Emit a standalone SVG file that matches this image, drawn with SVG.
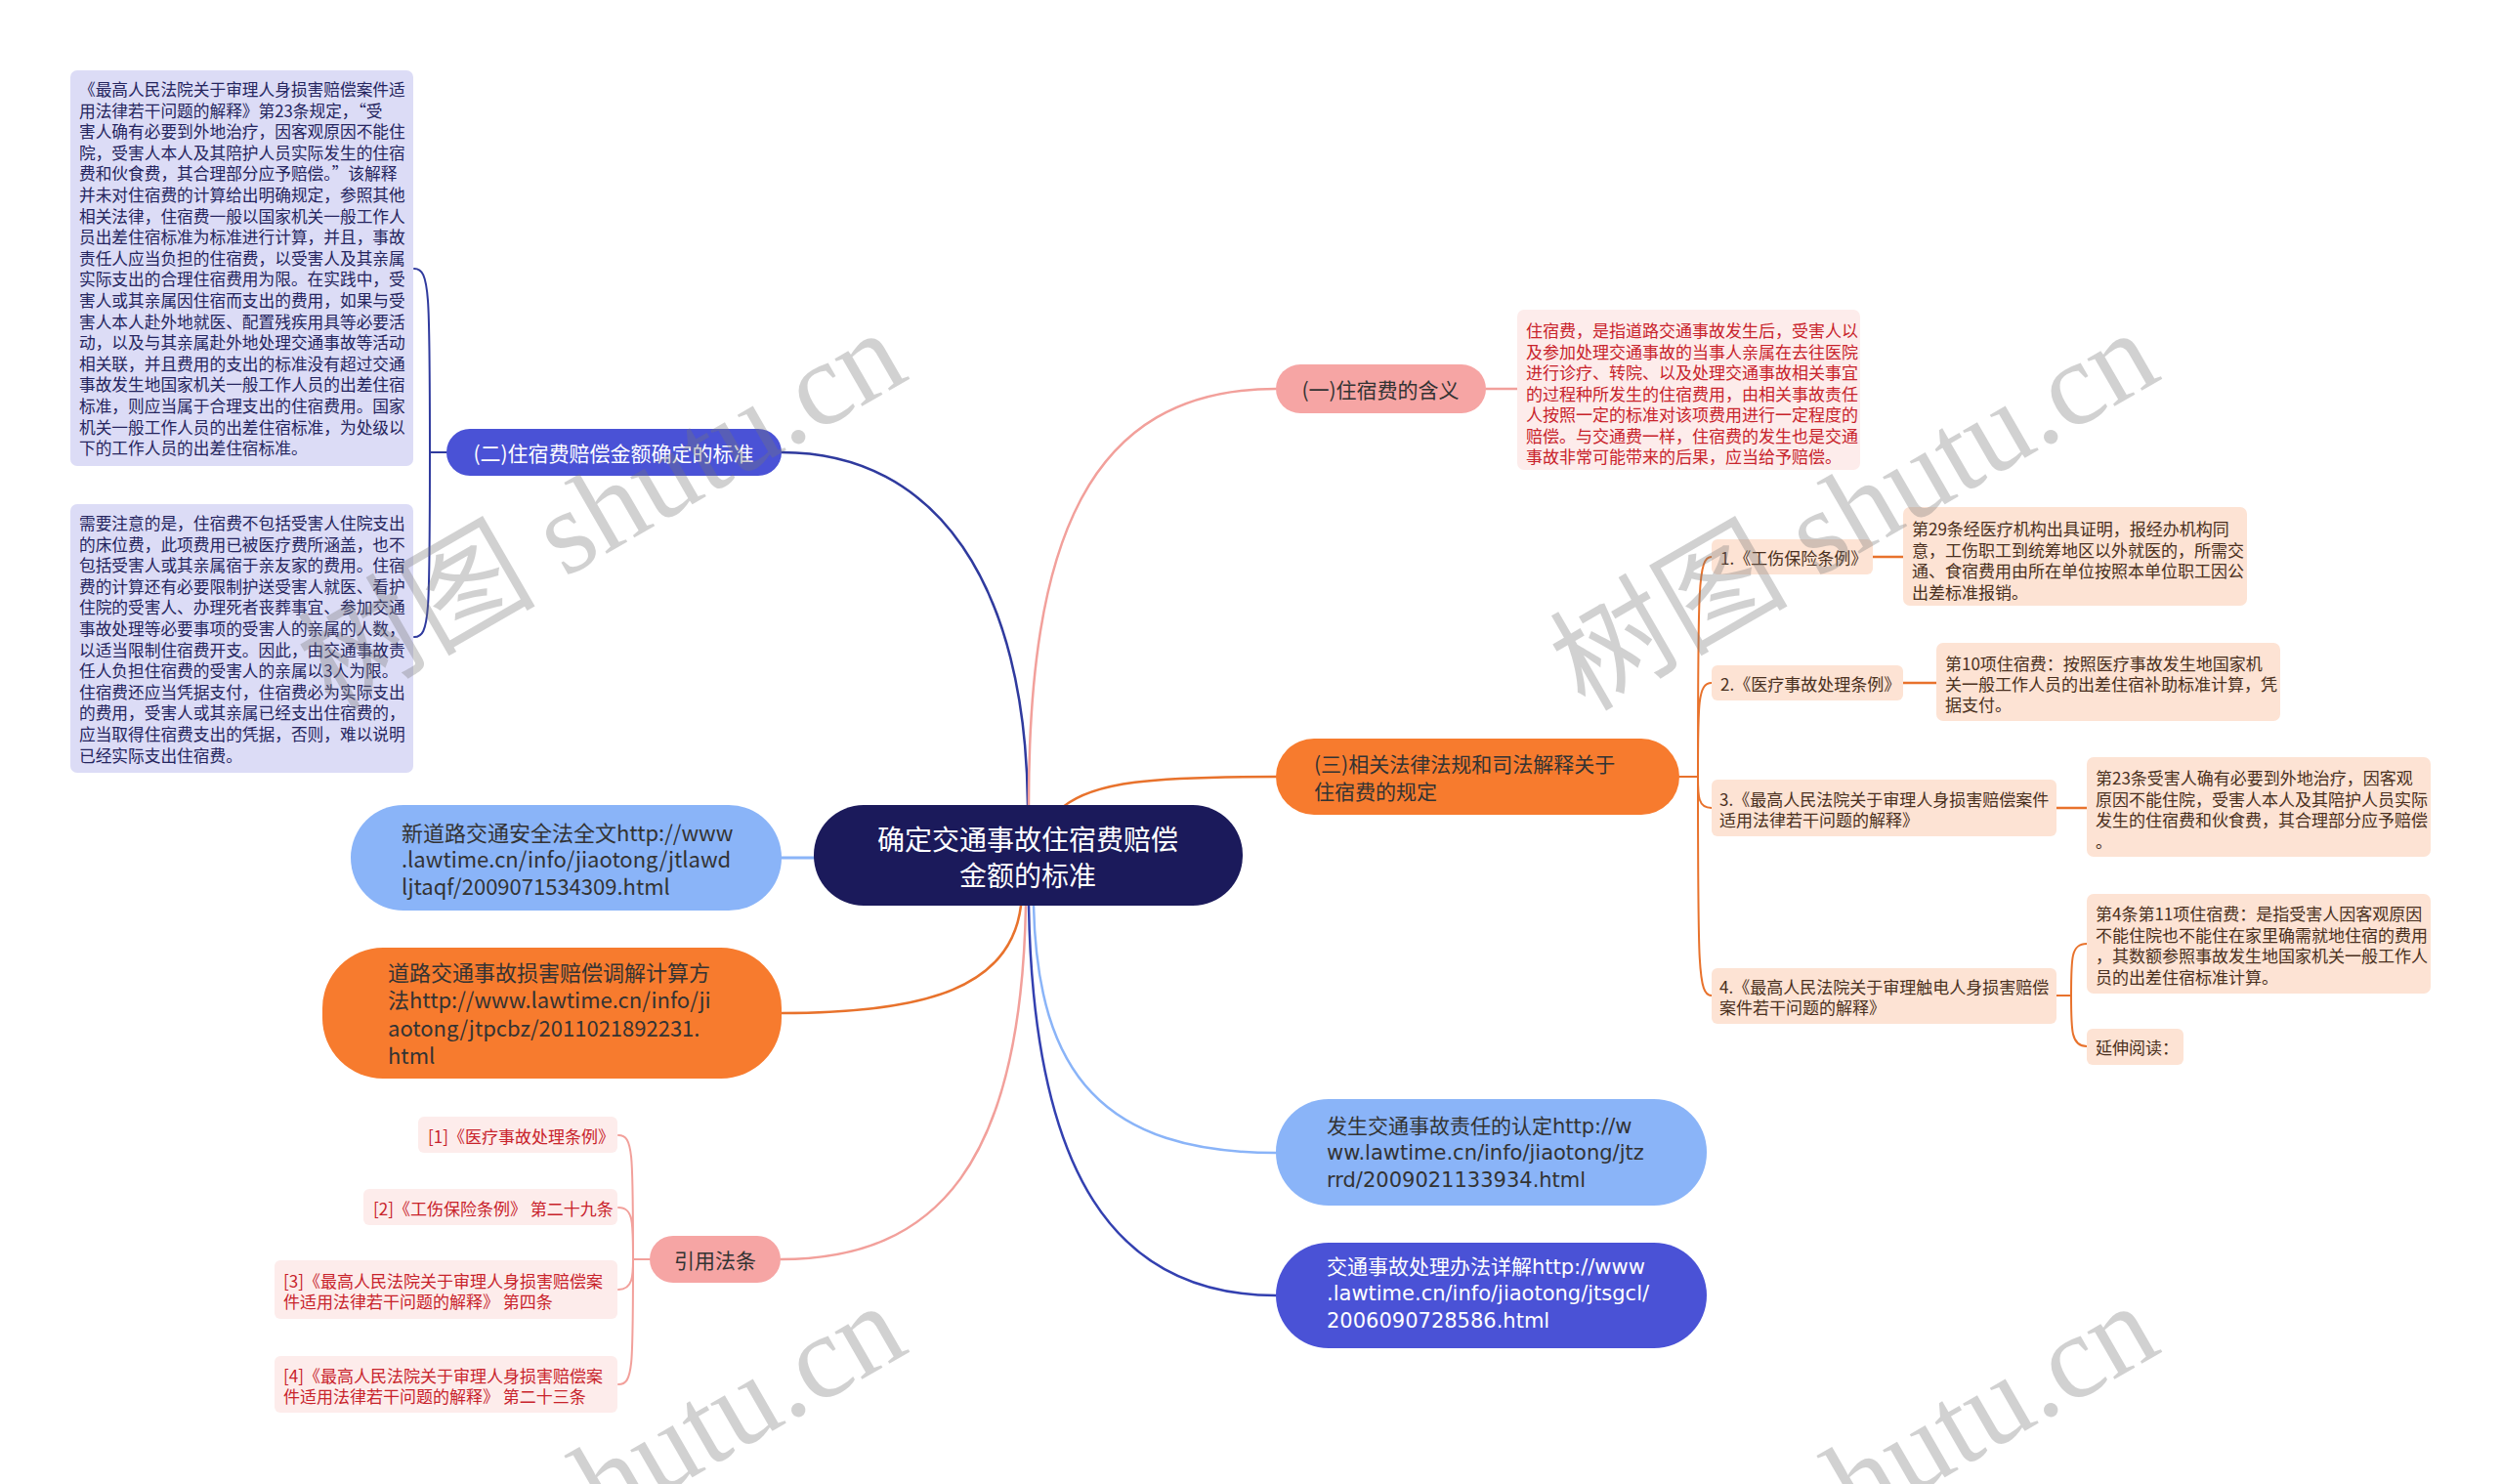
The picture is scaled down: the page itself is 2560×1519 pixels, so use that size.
<svg xmlns="http://www.w3.org/2000/svg" width="2560" height="1519" viewBox="0 0 2560 1519">
<style>
text { font-family: "Noto Sans CJK SC", "Noto Sans", sans-serif; dominant-baseline: central; }
.v { font-family: "DejaVu Sans", "Noto Sans CJK SC", sans-serif; }
.c { fill: none; stroke-linecap: round; }
.lav { fill: #dcdcf6; }
.lavt { fill: #25255e; font-size: 16.7px; }
.pk { fill: #fdeceb; }
.pkt { fill: #c8232b; font-size: 17px; }
.pe { fill: #fde3d4; }
.pet { fill: #4a3020; font-size: 17px; }
.wm { font-family: "Liberation Serif", "Noto Sans CJK SC", serif; font-size: 122px; fill: #777; opacity: 0.33; dominant-baseline: alphabetic; }
</style>
<rect width="2560" height="1519" fill="#fff"/>

<g id="connectors">
  <path class="c" d="M800,463 C960,463 1050,600 1052,824" stroke="#2f3a9e" stroke-width="2.5"/>
  <path class="c" d="M1053,824 C1053,560 1110,398 1306,398" stroke="#f2a09b" stroke-width="2.5"/>
  <path class="c" d="M1088,826 C1120,800 1180,795 1306,795" stroke="#e8722c" stroke-width="2.5"/>
  <path class="c" d="M800,878 H833" stroke="#8ab4f8" stroke-width="3"/>
  <path class="c" d="M1045,927 C1035,1010 950,1037 800,1037" stroke="#e8722c" stroke-width="2.5"/>
  <path class="c" d="M1050,927 C1045,1190 960,1289 799,1289" stroke="#f2a09b" stroke-width="2.5"/>
  <path class="c" d="M1058,927 C1062,1100 1130,1180 1306,1180" stroke="#8ab4f8" stroke-width="2.5"/>
  <path class="c" d="M1053,927 C1058,1200 1140,1326 1306,1326" stroke="#3340b0" stroke-width="2.5"/>
  <path class="c" d="M1521,398 H1553" stroke="#f2a09b" stroke-width="2.5"/>
  <path class="c" d="M457,463 H440 M440,463 C440,300 440,275 424,275 M440,463 C440,630 440,652 424,652" stroke="#2f3a9e" stroke-width="2"/>
  <path class="c" d="M665,1289 H648 M648,1289 C648,1180 648,1162 633,1162 M648,1289 C648,1250 648,1236 633,1236 M648,1289 C648,1305 648,1320 633,1320 M648,1289 C648,1400 648,1417 633,1417" stroke="#f2a09b" stroke-width="2"/>
  <path class="c" d="M1719,795 H1738 M1738,795 C1738,600 1738,570 1752,570 M1738,795 C1738,720 1738,699 1752,699 M1738,795 C1738,815 1738,827 1752,827 M1738,795 C1738,990 1738,1019 1752,1019" stroke="#e8722c" stroke-width="2"/>
  <path class="c" d="M1917,570 H1948 M1948,699 H1982 M2105,827 H2136" stroke="#e8722c" stroke-width="2.5"/>
  <path class="c" d="M2105,1019 H2120 M2120,1019 C2120,980 2120,966 2136,966 M2120,1019 C2120,1055 2120,1071 2136,1071" stroke="#e8722c" stroke-width="2"/>
</g>

<g id="center">
  <rect x="833" y="824" width="439" height="103" rx="51" fill="#1b1a5b"/>
  <text x="1052" y="858" font-size="28" fill="#fff" text-anchor="middle">确定交通事故住宿费赔偿</text>
  <text x="1052" y="895" font-size="28" fill="#fff" text-anchor="middle">金额的标准</text>
</g>

<g id="n1">
  <rect x="1306" y="373" width="215" height="50" rx="25" fill="#f6a5a4"/>
  <text x="1413" y="398" font-size="21" fill="#333" text-anchor="middle">(一)住宿费的含义</text>
</g>
<g id="n1-detail">
  <rect class="pk" x="1553" y="317" width="351" height="164" rx="7"/>
  <text class="pkt">
    <tspan x="1562" y="337">住宿费，是指道路交通事故发生后，受害人以</tspan>
    <tspan x="1562" y="358.5">及参加处理交通事故的当事人亲属在去往医院</tspan>
    <tspan x="1562" y="380">进行诊疗、转院、以及处理交通事故相关事宜</tspan>
    <tspan x="1562" y="401.5">的过程种所发生的住宿费用，由相关事故责任</tspan>
    <tspan x="1562" y="423">人按照一定的标准对该项费用进行一定程度的</tspan>
    <tspan x="1562" y="444.5">赔偿。与交通费一样，住宿费的发生也是交通</tspan>
    <tspan x="1562" y="466">事故非常可能带来的后果，应当给予赔偿。</tspan>
  </text>
</g>

<g id="n2">
  <rect x="457" y="439" width="343" height="48" rx="24" fill="#4a52d6"/>
  <text x="628" y="463" font-size="21" fill="#fff" text-anchor="middle">(二)住宿费赔偿金额确定的标准</text>
</g>
<g id="n2-box1">
  <rect class="lav" x="72" y="72" width="351" height="405" rx="7"/>
  <text class="lavt">
    <tspan x="81" y="91">《最高人民法院关于审理人身损害赔偿案件适</tspan>
    <tspan x="81" y="112.6">用法律若干问题的解释》第23条规定，“受</tspan>
    <tspan x="81" y="134.2">害人确有必要到外地治疗，因客观原因不能住</tspan>
    <tspan x="81" y="155.8">院，受害人本人及其陪护人员实际发生的住宿</tspan>
    <tspan x="81" y="177.4">费和伙食费，其合理部分应予赔偿。”该解释</tspan>
    <tspan x="81" y="199">并未对住宿费的计算给出明确规定，参照其他</tspan>
    <tspan x="81" y="220.6">相关法律，住宿费一般以国家机关一般工作人</tspan>
    <tspan x="81" y="242.2">员出差住宿标准为标准进行计算，并且，事故</tspan>
    <tspan x="81" y="263.8">责任人应当负担的住宿费，以受害人及其亲属</tspan>
    <tspan x="81" y="285.4">实际支出的合理住宿费用为限。在实践中，受</tspan>
    <tspan x="81" y="307">害人或其亲属因住宿而支出的费用，如果与受</tspan>
    <tspan x="81" y="328.6">害人本人赴外地就医、配置残疾用具等必要活</tspan>
    <tspan x="81" y="350.2">动，以及与其亲属赴外地处理交通事故等活动</tspan>
    <tspan x="81" y="371.8">相关联，并且费用的支出的标准没有超过交通</tspan>
    <tspan x="81" y="393.4">事故发生地国家机关一般工作人员的出差住宿</tspan>
    <tspan x="81" y="415">标准，则应当属于合理支出的住宿费用。国家</tspan>
    <tspan x="81" y="436.6">机关一般工作人员的出差住宿标准，为处级以</tspan>
    <tspan x="81" y="458.2">下的工作人员的出差住宿标准。</tspan>
  </text>
</g>
<g id="n2-box2">
  <rect class="lav" x="72" y="516" width="351" height="275" rx="7"/>
  <text class="lavt">
    <tspan x="81" y="535">需要注意的是，住宿费不包括受害人住院支出</tspan>
    <tspan x="81" y="556.6">的床位费，此项费用已被医疗费所涵盖，也不</tspan>
    <tspan x="81" y="578.2">包括受害人或其亲属宿于亲友家的费用。住宿</tspan>
    <tspan x="81" y="599.8">费的计算还有必要限制护送受害人就医、看护</tspan>
    <tspan x="81" y="621.4">住院的受害人、办理死者丧葬事宜、参加交通</tspan>
    <tspan x="81" y="643">事故处理等必要事项的受害人的亲属的人数，</tspan>
    <tspan x="81" y="664.6">以适当限制住宿费开支。因此，由交通事故责</tspan>
    <tspan x="81" y="686.2">任人负担住宿费的受害人的亲属以3人为限。</tspan>
    <tspan x="81" y="707.8">住宿费还应当凭据支付，住宿费必为实际支出</tspan>
    <tspan x="81" y="729.4">的费用，受害人或其亲属已经支出住宿费的，</tspan>
    <tspan x="81" y="751">应当取得住宿费支出的凭据，否则，难以说明</tspan>
    <tspan x="81" y="772.6">已经实际支出住宿费。</tspan>
  </text>
</g>

<g id="link-left-1">
  <rect x="359" y="824" width="441" height="108" rx="54" fill="#8ab4f8"/>
  <text font-size="22" fill="#333">
    <tspan x="411" y="851">新道路交通安全法全文http://www</tspan>
    <tspan x="411" y="878">.lawtime.cn/info/jiaotong/jtlawd</tspan>
    <tspan x="411" y="906">ljtaqf/2009071534309.html</tspan>
  </text>
</g>
<g id="link-left-2">
  <rect x="330" y="970" width="470" height="134" rx="62" fill="#f77b2e"/>
  <text font-size="22" fill="#333">
    <tspan x="397" y="994">道路交通事故损害赔偿调解计算方</tspan>
    <tspan x="397" y="1022">法http://www.lawtime.cn/info/ji</tspan>
    <tspan x="397" y="1051">aotong/jtpcbz/2011021892231.</tspan>
    <tspan x="397" y="1079">html</tspan>
  </text>
</g>

<g id="refs">
  <rect x="665" y="1265" width="134" height="48" rx="24" fill="#f6a5a4"/>
  <text x="732" y="1289" font-size="21" fill="#333" text-anchor="middle">引用法条</text>
</g>
<g id="ref1">
  <rect class="pk" x="428" y="1143" width="204" height="37" rx="6"/>
  <text class="pkt" x="438" y="1162">[1]《医疗事故处理条例》</text>
</g>
<g id="ref2">
  <rect class="pk" x="372" y="1217" width="260" height="37" rx="6"/>
  <text class="pkt" x="382" y="1236">[2]《工伤保险条例》 第二十九条</text>
</g>
<g id="ref3">
  <rect class="pk" x="281" y="1290" width="351" height="60" rx="6"/>
  <text class="pkt">
    <tspan x="290" y="1310">[3]《最高人民法院关于审理人身损害赔偿案</tspan>
    <tspan x="290" y="1331">件适用法律若干问题的解释》 第四条</tspan>
  </text>
</g>
<g id="ref4">
  <rect class="pk" x="281" y="1388" width="351" height="58" rx="6"/>
  <text class="pkt">
    <tspan x="290" y="1407">[4]《最高人民法院关于审理人身损害赔偿案</tspan>
    <tspan x="290" y="1428">件适用法律若干问题的解释》 第二十三条</tspan>
  </text>
</g>

<g id="n3">
  <rect x="1306" y="756" width="413" height="78" rx="39" fill="#f77b2e"/>
  <text font-size="21" fill="#333">
    <tspan x="1345" y="781">(三)相关法律法规和司法解释关于</tspan>
    <tspan x="1345" y="809">住宿费的规定</tspan>
  </text>
</g>
<g id="n3-c1">
  <rect class="pe" x="1752" y="552" width="165" height="36" rx="6"/>
  <text class="pet" x="1761" y="570">1.《工伤保险条例》</text>
</g>
<g id="n3-d1">
  <rect class="pe" x="1948" y="519" width="352" height="101" rx="7"/>
  <text class="pet">
    <tspan x="1957" y="540">第29条经医疗机构出具证明，报经办机构同</tspan>
    <tspan x="1957" y="561.5">意，工伤职工到统筹地区以外就医的，所需交</tspan>
    <tspan x="1957" y="583">通、食宿费用由所在单位按照本单位职工因公</tspan>
    <tspan x="1957" y="604.5">出差标准报销。</tspan>
  </text>
</g>
<g id="n3-c2">
  <rect class="pe" x="1752" y="681" width="196" height="36" rx="6"/>
  <text class="pet" x="1761" y="699">2.《医疗事故处理条例》</text>
</g>
<g id="n3-d2">
  <rect class="pe" x="1982" y="658" width="352" height="80" rx="7"/>
  <text class="pet">
    <tspan x="1991" y="678">第10项住宿费：按照医疗事故发生地国家机</tspan>
    <tspan x="1991" y="699">关一般工作人员的出差住宿补助标准计算，凭</tspan>
    <tspan x="1991" y="720">据支付。</tspan>
  </text>
</g>
<g id="n3-c3">
  <rect class="pe" x="1752" y="798" width="353" height="58" rx="6"/>
  <text class="pet">
    <tspan x="1760" y="817">3.《最高人民法院关于审理人身损害赔偿案件</tspan>
    <tspan x="1760" y="838">适用法律若干问题的解释》</tspan>
  </text>
</g>
<g id="n3-d3">
  <rect class="pe" x="2136" y="775" width="352" height="102" rx="7"/>
  <text class="pet">
    <tspan x="2145" y="795">第23条受害人确有必要到外地治疗，因客观</tspan>
    <tspan x="2145" y="817">原因不能住院，受害人本人及其陪护人员实际</tspan>
    <tspan x="2145" y="838">发生的住宿费和伙食费，其合理部分应予赔偿</tspan>
    <tspan x="2145" y="860">。</tspan>
  </text>
</g>
<g id="n3-c4">
  <rect class="pe" x="1752" y="991" width="353" height="57" rx="6"/>
  <text class="pet">
    <tspan x="1760" y="1009">4.《最高人民法院关于审理触电人身损害赔偿</tspan>
    <tspan x="1760" y="1030">案件若干问题的解释》</tspan>
  </text>
</g>
<g id="n3-d4a">
  <rect class="pe" x="2136" y="915" width="352" height="102" rx="7"/>
  <text class="pet">
    <tspan x="2145" y="934">第4条第11项住宿费：是指受害人因客观原因</tspan>
    <tspan x="2145" y="955.5">不能住院也不能住在家里确需就地住宿的费用</tspan>
    <tspan x="2145" y="977">，其数额参照事故发生地国家机关一般工作人</tspan>
    <tspan x="2145" y="998.5">员的出差住宿标准计算。</tspan>
  </text>
</g>
<g id="n3-d4b">
  <rect class="pe" x="2136" y="1053" width="99" height="37" rx="6"/>
  <text class="pet" x="2145" y="1071">延伸阅读：</text>
</g>

<g id="link-right-1">
  <rect x="1306" y="1125" width="441" height="109" rx="54" fill="#8ab4f8"/>
  <text class="v" font-size="21" fill="#333">
    <tspan x="1358" y="1153">发生交通事故责任的认定http://w</tspan>
    <tspan x="1358" y="1180">ww.lawtime.cn/info/jiaotong/jtz</tspan>
    <tspan x="1358" y="1208">rrd/2009021133934.html</tspan>
  </text>
</g>
<g id="link-right-2">
  <rect x="1306" y="1272" width="441" height="108" rx="54" fill="#4a52d6"/>
  <text class="v" font-size="21" fill="#fff">
    <tspan x="1358" y="1297">交通事故处理办法详解http://www</tspan>
    <tspan x="1358" y="1324">.lawtime.cn/info/jiaotong/jtsgcl/</tspan>
    <tspan x="1358" y="1352">2006090728586.html</tspan>
  </text>
</g>

<g id="watermark">
  <text class="wm" x="340" y="729" transform="rotate(-30 340 729)">树图 shutu.cn</text>
  <text class="wm" x="1622" y="729" transform="rotate(-30 1622 729)">树图 shutu.cn</text>
  <text class="wm" x="340" y="1725" transform="rotate(-30 340 1725)">树图 shutu.cn</text>
  <text class="wm" x="1622" y="1725" transform="rotate(-30 1622 1725)">树图 shutu.cn</text>
</g>
</svg>
